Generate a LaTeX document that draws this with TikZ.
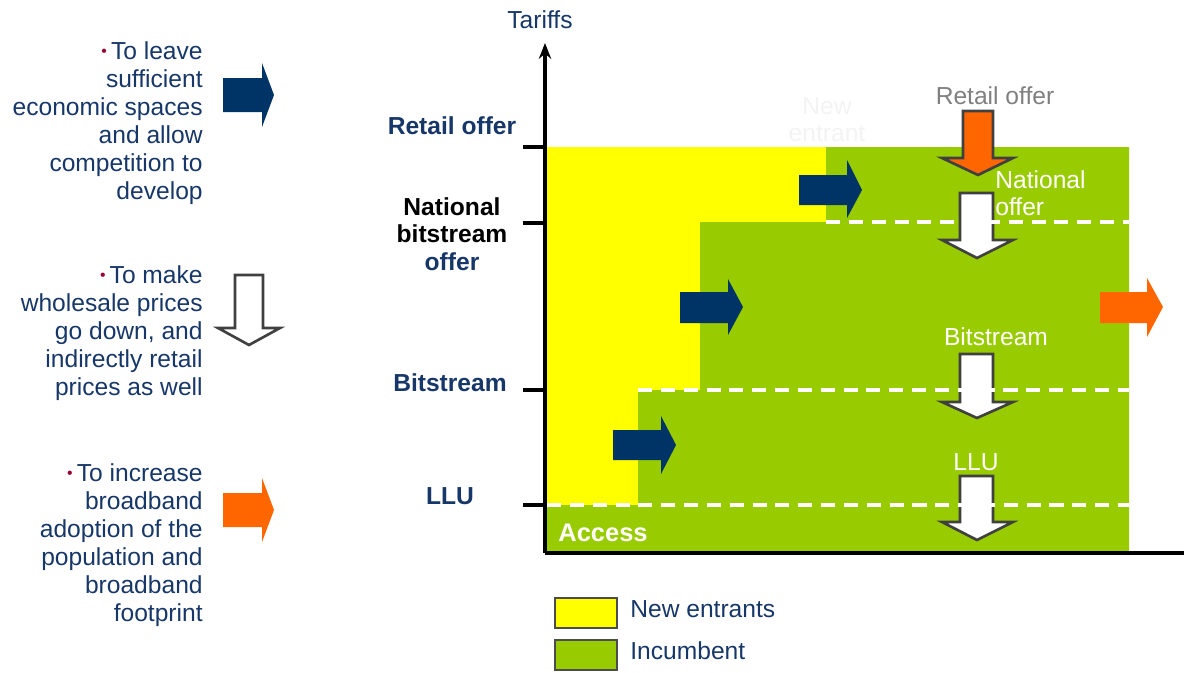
\documentclass[tikz,border=0pt]{standalone}
\usepackage{fontspec}
\setmainfont{Liberation Sans}
\usetikzlibrary{arrows.meta}
\definecolor{navyA}{RGB}{0,51,102}
\definecolor{navyT}{RGB}{23,55,105}
\definecolor{yel}{RGB}{255,255,0}
\definecolor{grn}{RGB}{153,204,0}
\definecolor{org}{RGB}{255,102,0}
\definecolor{bul}{RGB}{153,0,51}
\definecolor{outl}{RGB}{64,64,64}
\definecolor{faint}{RGB}{243,243,243}
\newcommand{\bl}{\textcolor{bul}{\raisebox{0.12em}{\fontsize{9}{9}\selectfont •}}\,}
\tikzset{
  lefttext/.style={anchor=east, align=right, inner sep=0pt, text=navyT, font=\fontsize{14}{16}\selectfont},
  axlabel/.style={inner sep=0pt, text=navyT, font=\bfseries\fontsize{14}{15.5}\selectfont},
  wlabel/.style={inner sep=0pt, text=white, font=\fontsize{14}{15.5}\selectfont},
  legtext/.style={anchor=west, inner sep=0pt, text=navyT, font=\fontsize{14}{16}\selectfont},
  downarrow/.style={draw=outl, line width=1.5pt, line join=miter},
  dashline/.style={draw=white, line width=2.3pt, dash pattern=on 8pt off 5pt},
  axisline/.style={draw=black, line width=1.9pt},
}
\begin{document}
\begin{tikzpicture}[x=0.02cm,y=-0.02cm]
\useasboundingbox (0,0) rectangle (1184,673);
% regions
\fill[yel] (547,147) rectangle (1129,553);
\fill[grn] (826,147) -- (1129,147) -- (1129,553) -- (547,553) -- (547,505) -- (638,505) -- (638,390) -- (700,390) -- (700,222) -- (826,222) -- cycle;
% navy arrows in chart
\fill[navyA] (799,175)--(847,175)--(847,160)--(862,190)--(847,218)--(847,205)--(799,205)--cycle;
\fill[navyA] (680,292)--(728,292)--(728,279)--(743,307)--(728,335)--(728,323)--(680,323)--cycle;
\fill[navyA] (613,430)--(661,430)--(661,416)--(676,445)--(661,474)--(661,460)--(613,460)--cycle;
% right orange arrow
\fill[org] (1100,292)--(1147,292)--(1147,278)--(1163,307)--(1147,337)--(1147,323)--(1100,323)--cycle;
% down arrows
\filldraw[downarrow, fill=org] (963,111)--(993,111)--(993,158)--(1013,158)--(978,175)--(942,158)--(963,158)--cycle;
\filldraw[downarrow, fill=white] (960,193)--(993,193)--(993,240)--(1013,240)--(977,258)--(942,240)--(960,240)--cycle;
\filldraw[downarrow, fill=white] (960,354)--(993,354)--(993,402)--(1013,402)--(977,418)--(942,402)--(960,402)--cycle;
\filldraw[downarrow, fill=white] (960,476)--(993,476)--(993,522)--(1013,522)--(977,540)--(942,522)--(960,522)--cycle;
% dashed lines
\draw[dashline] (826,222) -- (1129,222);
\draw[dashline] (638,390) -- (1129,390);
\draw[dashline] (547,505) -- (1129,505);
% axes
\coordinate (o) at (545,553);
\coordinate (ytop) at (545,43);
\coordinate (xend) at (1184,553);
\draw[axisline, -{Stealth[length=9pt,width=7pt]}] (o) -- (ytop);
\draw[axisline] (o) -- (xend);
\foreach \yy in {147,223,390,505} \draw[axisline] (523,\yy) -- (545,\yy);
% axis labels
\node[axlabel, font=\fontsize{14}{16}\selectfont] (tar) at (540,20) {Tariffs};
\node[axlabel] (lret) at (452,126) {Retail offer};
\node[axlabel, align=center, font=\bfseries\fontsize{14}{15.5}\selectfont] (lnat) at (452,234) {\textcolor{black}{National}\\\textcolor{black}{bitstream}\\offer};
\node[axlabel] (lbit) at (450,383) {Bitstream};
\node[axlabel] (lllu) at (450,496) {LLU};
% chart labels
\node[wlabel, font=\bfseries\fontsize{14.5}{16}\selectfont] (acc) at (603,533) {Access};
\node[wlabel, text=black!50] (tret) at (995,96) {Retail offer};
\node[wlabel, anchor=west, align=left] (tnat) at (995,193) {National\\offer};
\node[wlabel] (tbit) at (996,337) {Bitstream};
\node[wlabel] (tllu) at (976,462) {LLU};
\node[wlabel, text=faint, align=center] (tnew) at (827,120) {New\\entrant};
% left side
\node[lefttext] (t1) at (203,123) {\bl To leave\\sufficient\\economic spaces\\and allow\\competition to\\develop};
\node[lefttext] (t2) at (203,333) {\bl To make\\wholesale prices\\go down, and\\indirectly retail\\prices as well};
\node[lefttext] (t3) at (203,545) {\bl To increase\\broadband\\adoption of the\\population and\\broadband\\footprint};
\fill[navyA] (223,78)--(262,78)--(262,63)--(274,95)--(262,127)--(262,112)--(223,112)--cycle;
\filldraw[downarrow, fill=white] (235,275)--(263,275)--(263,328)--(280,328)--(249,345)--(218,328)--(235,328)--cycle;
\fill[org] (223,493)--(262,493)--(262,478)--(274,510)--(262,542)--(262,527)--(223,527)--cycle;
% legend
\filldraw[fill=yel, draw=black!70, line width=0.6pt] (555,598) rectangle (617,628);
\filldraw[fill=grn, draw=black!70, line width=0.6pt] (555,640) rectangle (617,670);
\node[legtext] (lg1) at (630,609) {New entrants};
\node[legtext] (lg2) at (630,651) {Incumbent};
\end{tikzpicture}
\end{document}
